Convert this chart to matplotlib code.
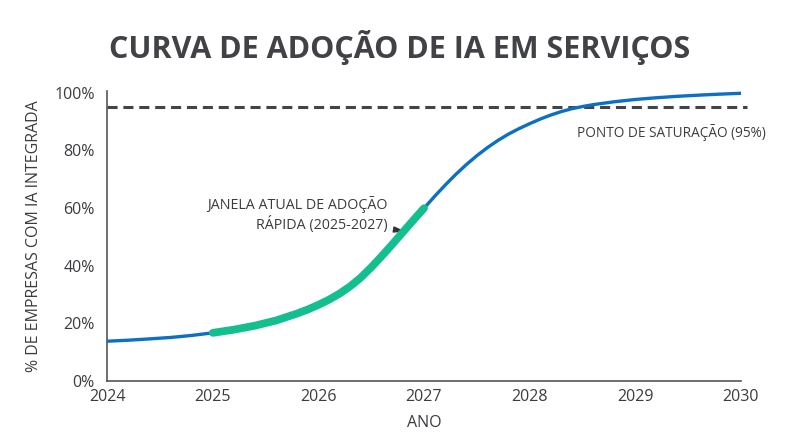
import matplotlib
matplotlib.use("Agg")
import matplotlib.pyplot as plt
import numpy as np

# Data
years = [2024.0, 2024.2, 2024.4, 2024.6, 2024.8, 2025.0, 2025.2, 2025.4, 2025.6, 2025.8,
         2025.9, 2026.0, 2026.1, 2026.2, 2026.3, 2026.4, 2026.5, 2026.6, 2026.7, 2026.8,
         2026.9, 2027.0, 2027.1, 2027.2, 2027.3, 2027.4, 2027.5, 2027.6, 2027.7, 2027.8,
         2027.9, 2028.0, 2028.1, 2028.2, 2028.3, 2028.4, 2028.5, 2028.6,
         2028.8, 2029.0, 2029.2, 2029.4, 2029.6, 2029.8, 2030.0]
adoption = [13.8, 14.15, 14.6, 15.1, 15.8, 16.7, 17.8, 19.2, 21.0, 23.4,
            24.8, 26.4, 28.2, 30.3, 32.8, 35.8, 39.4, 43.3, 47.4, 51.6,
            55.8, 59.9, 64.0, 67.9, 71.6, 75.0, 78.1, 80.9, 83.4, 85.6,
            87.5, 89.2, 90.8, 92.2, 93.4, 94.4, 95.15, 95.8,
            96.8, 97.6, 98.2, 98.7, 99.1, 99.45, 99.75]
window_start, window_end = 2025.0, 2027.0
saturation = 95
x_ticks = [2024, 2025, 2026, 2027, 2028, 2029, 2030]
y_ticks = [0, 20, 40, 60, 80, 100]

FONT = ["Open Sans", "DejaVu Sans"]
plt.rcParams['font.family'] = FONT
TXT = "#3a3c40"

fig = plt.figure(figsize=(8, 4.46), dpi=100)
ax = fig.add_axes([0.134, 0.1457, 0.792, 0.650])

x = np.array(years)
y = np.array(adoption)
ax.plot(x, y, color="#0d6fc4", lw=2.4, solid_capstyle="round",
        solid_joinstyle="round", zorder=3)
m = (x >= window_start) & (x <= window_end)
ax.plot(x[m], y[m], color="#13bf8e", lw=5.6, solid_capstyle="round",
        solid_joinstyle="round", zorder=4)

ax.axhline(saturation, xmin=0, xmax=1.01, color="#444444", lw=2.2,
           dashes=(3.3, 1.9), clip_on=False, zorder=2)
ax.text(2028.45, 86.3, "PONTO DE SATURAÇÃO (95%)", fontsize=9.8, color=TXT,
        ha="left", va="center")

ax.annotate("JANELA ATUAL DE ADOÇÃO\nRÁPIDA (2025-2027)", xy=(2026.8, 52.0),
            xytext=(2026.66, 57.8), ha="right", va="center", fontsize=10.3,
            color=TXT, linespacing=1.2,
            arrowprops=dict(arrowstyle="wedge,tail_width=0.35", color="#333333",
                            shrinkA=2, shrinkB=0), zorder=2)

ax.set_xlim(2024, 2030)
ax.set_ylim(0, 100.5)
ax.set_xticks(x_ticks)
ax.set_xticklabels([str(t) for t in x_ticks])
ax.set_yticks(y_ticks)
ax.set_yticklabels([f"{t}%" for t in y_ticks])
ax.tick_params(length=0, labelsize=11.5, colors=TXT, pad=6)
ax.tick_params(axis="y", pad=9)
for s in ["top", "right"]:
    ax.spines[s].set_visible(False)
for s in ["left", "bottom"]:
    ax.spines[s].set_color("#555555")
    ax.spines[s].set_linewidth(1.2)

ax.set_xlabel("ANO", fontsize=11.5, color=TXT, labelpad=7)
ax.set_ylabel("% DE EMPRESAS COM IA INTEGRADA", fontsize=11.5, color=TXT, labelpad=9)

fig.text(0.5, 0.893, "CURVA DE ADOÇÃO DE IA EM SERVIÇOS", ha="center", va="center",
         fontsize=22, fontweight="bold", color="#404246")

fig.savefig("out.png", dpi=100, facecolor="white")
